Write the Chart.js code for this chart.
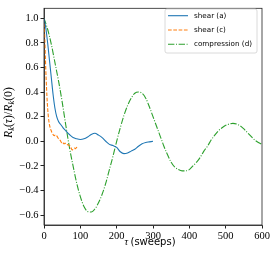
<!DOCTYPE html>
<html>
<head>
<meta charset="utf-8">
<script src="https://cdn.jsdelivr.net/npm/chart.js@4.4.0/dist/chart.umd.min.js"></script>
<style>
  html, body { margin: 0; padding: 0; background: #fff; }
</style>
</head>
<body>
<canvas id="c" width="274" height="255"></canvas>
<script>
const tauA = [0, 5, 10, 15, 20, 25, 30, 35, 40, 45, 50, 55, 60, 70, 80, 90, 100, 110, 120, 130, 140, 150, 160, 170, 180, 190, 200, 210, 220, 230, 240, 250, 260, 270, 280, 290, 300];
const shearA = [1.0, 0.92, 0.8, 0.66, 0.52, 0.38, 0.27, 0.2, 0.16, 0.14, 0.12, 0.1, 0.085, 0.055, 0.03, 0.02, 0.015, 0.02, 0.035, 0.055, 0.065, 0.05, 0.03, 0.0, -0.025, -0.035, -0.05, -0.085, -0.1, -0.095, -0.08, -0.065, -0.04, -0.02, -0.01, -0.005, 0.0];

const tauC = [0, 2, 4, 6, 8, 10, 12, 14, 16, 18, 20, 22, 24, 26, 28, 30, 32, 34, 36, 38, 40, 42, 44, 46, 48, 50, 52, 54, 56, 58, 60, 62, 64, 66, 68, 70, 72, 74, 76, 78, 80, 82, 84, 86, 88, 90, 92];
const shearC = [1.0, 0.85, 0.66, 0.5, 0.37, 0.27, 0.2, 0.15, 0.12, 0.1, 0.085, 0.07, 0.06, 0.05, 0.045, 0.05, 0.052, 0.048, 0.04, 0.03, 0.02, 0.015, 0.01, 0.0, -0.01, -0.015, -0.01, -0.02, -0.02, -0.015, -0.02, -0.02, -0.025, -0.03, -0.03, -0.035, -0.04, -0.05, -0.065, -0.07, -0.065, -0.06, -0.055, -0.06, -0.055, -0.05, -0.045];

const tauD = [0, 10, 20, 30, 40, 50, 60, 70, 80, 90, 100, 110, 120, 130, 140, 150, 160, 170, 180, 190, 200, 210, 220, 230, 240, 250, 260, 270, 280, 290, 300, 310, 320, 330, 340, 350, 360, 370, 380, 390, 400, 410, 420, 430, 440, 450, 460, 470, 480, 490, 500, 510, 520, 530, 540, 550, 560, 570, 580, 590, 600];
const compD = [1.0, 0.91, 0.79, 0.64, 0.49, 0.32, 0.13, -0.05, -0.2, -0.34, -0.45, -0.53, -0.57, -0.575, -0.55, -0.5, -0.43, -0.34, -0.23, -0.12, 0.0, 0.11, 0.21, 0.29, 0.35, 0.39, 0.4, 0.39, 0.35, 0.28, 0.2, 0.12, 0.04, -0.04, -0.11, -0.17, -0.21, -0.23, -0.24, -0.24, -0.23, -0.2, -0.17, -0.13, -0.08, -0.04, 0.01, 0.05, 0.085, 0.11, 0.13, 0.14, 0.145, 0.14, 0.125, 0.1, 0.07, 0.04, 0.01, -0.01, -0.025];

const seriesLabels = ["shear (a)", "shear (c)", "compression (d)"];
const xTicks = [0, 100, 200, 300, 400, 500, 600];

const SERIF = "'Liberation Serif', 'DejaVu Serif', serif";
const SANS = "'DejaVu Sans', sans-serif";

function pts(xs, ys) {
  return xs.map((x, i) => ({ x: x, y: ys[i] }));
}

// text with italic / subscript / sans pieces, centred on (x, y)
function drawRich(ctx, segs, x, y, size, angle) {
  const fontFor = s => (s[1].includes("i") ? "italic " : "") +
    (s[1].includes("s") ? size * 0.7 : size) + "px " + (s[1].includes("f") ? SANS : SERIF);
  let w = 0;
  segs.forEach(s => { ctx.font = fontFor(s); w += ctx.measureText(s[0]).width; });
  ctx.save();
  ctx.translate(x, y);
  ctx.rotate(angle);
  ctx.fillStyle = "#000";
  ctx.textBaseline = "middle";
  ctx.textAlign = "left";
  let cx = -w / 2;
  segs.forEach(s => {
    ctx.font = fontFor(s);
    ctx.fillText(s[0], cx, s[1].includes("s") ? size * 0.25 : 0);
    cx += ctx.measureText(s[0]).width;
  });
  ctx.restore();
}

const decor = {
  id: "decor",
  afterDraw(chart) {
    const ctx = chart.ctx;
    const a = chart.chartArea;
    // frame
    ctx.save();
    ctx.strokeStyle = "#222";
    ctx.lineWidth = 0.8;
    ctx.strokeRect(a.left, a.top, a.right - a.left, a.bottom - a.top);
    ctx.restore();

    // axis titles
    ctx.save();
    drawRich(ctx, [["τ ", "i"], ["(sweeps)", "f"]], 150, 242, 10, 0);
    drawRich(ctx, [["R", "i"], ["k", "is"], ["(", "n"], ["τ", "i"], [")/", "n"], ["R", "i"], ["k", "is"], ["(0)", "n"]],
      9, 112.5, 11.8, -Math.PI / 2);
    ctx.restore();

    // legend box
    const bx = 165, by = 9, bw = 92, bh = 44;
    ctx.save();
    ctx.fillStyle = "rgba(255,255,255,0.8)";
    ctx.strokeStyle = "#d0d0d0";
    ctx.lineWidth = 0.8;
    ctx.beginPath();
    ctx.roundRect(bx, by, bw, bh, 2);
    ctx.fill();
    ctx.stroke();
    ctx.font = "7.2px " + SANS;
    ctx.textBaseline = "middle";
    chart.data.datasets.forEach((ds, i) => {
      const yy = 15.7 + i * 14.3;
      ctx.strokeStyle = ds.borderColor;
      ctx.lineWidth = ds.borderWidth;
      ctx.setLineDash(ds.borderDash || []);
      ctx.beginPath();
      ctx.moveTo(168, yy);
      ctx.lineTo(188, yy);
      ctx.stroke();
      ctx.setLineDash([]);
      ctx.fillStyle = "#000";
      ctx.fillText(ds.label, 194, yy);
    });
    ctx.restore();
  }
};

new Chart(document.getElementById("c"), {
  type: "line",
  data: {
    datasets: [
      { label: seriesLabels[0], data: pts(tauA, shearA), borderColor: "#1f77b4", borderWidth: 1.1 },
      { label: seriesLabels[1], data: pts(tauC, shearC), borderColor: "#ff7f0e", borderWidth: 1.1, borderDash: [3.7, 1.6] },
      { label: seriesLabels[2], data: pts(tauD, compD), borderColor: "#2ca02c", borderWidth: 1.1, borderDash: [6.4, 1.6, 1, 1.6] }
    ]
  },
  options: {
    responsive: false,
    animation: false,
    devicePixelRatio: 1,
    layout: { padding: { top: 5, right: 12, left: 0, bottom: 0 } },
    elements: {
      point: { radius: 0 },
      line: { tension: 0.3, cubicInterpolationMode: "monotone", fill: false }
    },
    plugins: { legend: { display: false }, tooltip: { enabled: false } },
    scales: {
      x: {
        type: "linear",
        min: 0,
        max: 600,
        afterFit: s => { s.height = 30; },
        afterBuildTicks: s => { s.ticks = xTicks.map(v => ({ value: v })); },
        ticks: { color: "#000", font: { family: SERIF, size: 10.5 }, padding: 1, maxRotation: 0 },
        grid: { drawOnChartArea: false, tickLength: 3.5, color: "#222" },
        border: { color: "#222", width: 0.8 }
      },
      y: {
        min: -0.68,
        max: 1.08,
        afterFit: s => { s.width = 44; },
        ticks: {
          stepSize: 0.2,
          includeBounds: false,
          color: "#000",
          font: { family: SERIF, size: 10.5 },
          padding: 2,
          callback: v => v.toFixed(1).replace("-", "\u2212")
        },
        grid: { drawOnChartArea: false, tickLength: 3.5, color: "#222" },
        border: { color: "#222", width: 0.8 }
      }
    }
  },
  plugins: [decor]
});
</script>
</body>
</html>
